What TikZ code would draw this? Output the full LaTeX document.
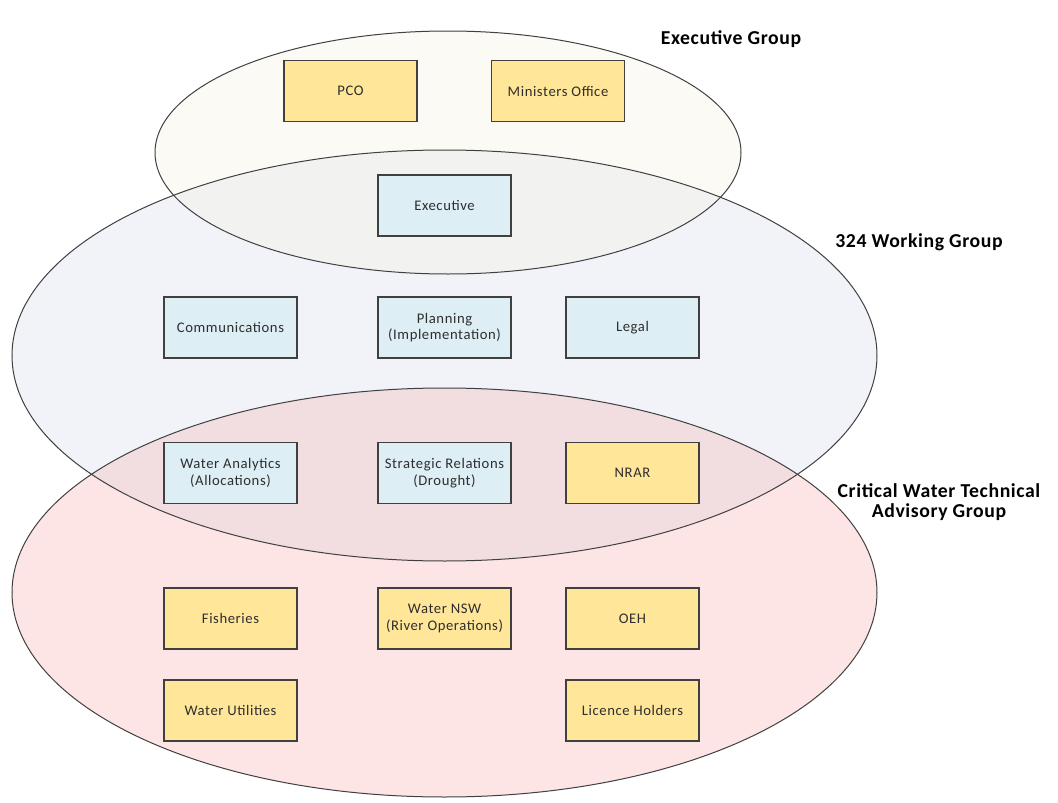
\documentclass[tikz,border=0pt]{standalone}
\usepackage{fontspec}
\setmainfont{Carlito}
\newfontfamily\boxfont[LetterSpace=4]{Carlito}
\newfontfamily\grpfont[LetterSpace=3]{Carlito}
\definecolor{exfill}{HTML}{FCFAF5}
\definecolor{wgfill}{HTML}{F1F3F8}
\definecolor{cwfill}{HTML}{FDE5E6}
\definecolor{exwg}{HTML}{F2F2F1}
\definecolor{wgcw}{HTML}{F2DDE0}
\definecolor{yelbox}{HTML}{FFE699}
\definecolor{bluebox}{HTML}{DDEEF4}
\definecolor{edge}{HTML}{404040}
\definecolor{txt}{HTML}{2E2E2E}
\tikzset{
  box/.style={draw=edge, line width=0.9pt, minimum width=99.75pt, minimum height=45.75pt,
    inner sep=0pt, align=center, font=\boxfont\fontsize{11}{12.5}\selectfont, text=txt},
  ybox/.style={box, fill=yelbox},
  bbox/.style={box, fill=bluebox},
  grp/.style={font=\grpfont\fontsize{14.8}{15}\selectfont\bfseries, text=black, align=center},
  ell/.style={draw=edge, line width=0.75pt}
}
\begin{document}
\begin{tikzpicture}[x=0.75pt,y=-0.75pt]
\useasboundingbox (0,0) rectangle (1058,803);
% fills
\fill[exfill] (448,152.5) ellipse [x radius=293, y radius=121.5];
\fill[wgfill] (444.5,355.5) ellipse [x radius=432.5, y radius=205.5];
\fill[cwfill] (444.5,592.5) ellipse [x radius=432.5, y radius=204.5];
\begin{scope}
  \clip (448,152.5) ellipse [x radius=293, y radius=121.5];
  \fill[exwg] (444.5,355.5) ellipse [x radius=432.5, y radius=205.5];
\end{scope}
\begin{scope}
  \clip (444.5,355.5) ellipse [x radius=432.5, y radius=205.5];
  \fill[wgcw] (444.5,592.5) ellipse [x radius=432.5, y radius=204.5];
\end{scope}
% outlines
\draw[ell] (448,152.5) ellipse [x radius=293, y radius=121.5];
\draw[ell] (444.5,355.5) ellipse [x radius=432.5, y radius=205.5];
\draw[ell] (444.5,592.5) ellipse [x radius=432.5, y radius=204.5];
% group labels
\node[grp] (lex) at (731,39) {Executive Group};
\node[grp] (lwg) at (919,242) {324 Working Group};
\node[grp] (lcw) at (939,502) {Critical Water Technical\\Advisory Group};
% boxes
\node[ybox] (pco) at (350.5,91) {PCO};
\node[ybox] (mo) at (558,91) {Ministers Office};
\node[bbox] (exe) at (444.5,205.5) {Executive};
\node[bbox] (com) at (230.5,327.5) {Communications};
\node[bbox] (pla) at (444.5,327.5) {Planning\\(Implementation)};
\node[bbox] (leg) at (632.5,327.5) {Legal};
\node[bbox] (wa) at (230.5,473) {Water Analytics\\(Allocations)};
\node[bbox] (sr) at (444.5,473) {Strategic Relations\\(Drought)};
\node[ybox] (nrar) at (632.5,473) {NRAR};
\node[ybox] (fis) at (230.5,618.5) {Fisheries};
\node[ybox] (wns) at (444.5,618.5) {Water NSW\\(River Operations)};
\node[ybox] (oeh) at (632.5,618.5) {OEH};
\node[ybox] (wu) at (230.5,710.5) {Water Utilities};
\node[ybox] (lh) at (632.5,710.5) {Licence Holders};
\end{tikzpicture}
\end{document}
